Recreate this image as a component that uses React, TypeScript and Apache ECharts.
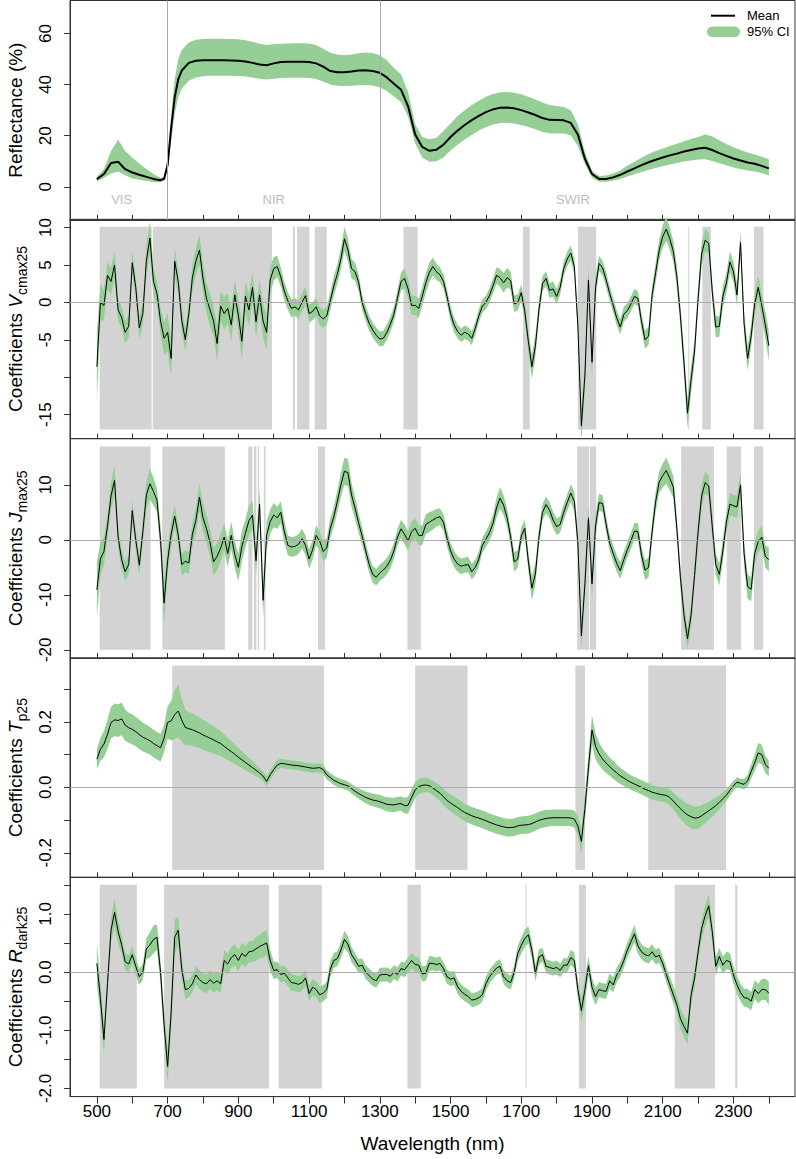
import React, { useEffect, useRef } from "react";
import * as echarts from "echarts";

// ---------- DATA ----------
// Reflectance spectrum (mean and 95% CI), sampled wavelengths (nm)
const reflWl = [
  500, 520, 540, 560, 580, 600, 620, 640, 660, 680,
  690, 700, 710, 720, 730, 740,
  760, 780, 800, 820, 840, 860, 880, 900, 920, 940,
  960, 980, 1000, 1020, 1040, 1060, 1080, 1100, 1120, 1140,
  1160, 1180, 1200, 1220, 1240, 1260, 1280, 1300, 1320, 1340,
  1360, 1380, 1400, 1420, 1440, 1460, 1480, 1500, 1520, 1540,
  1560, 1580, 1600, 1620, 1640, 1660, 1680, 1700, 1720, 1740,
  1760, 1780, 1800, 1820, 1840, 1860, 1880, 1900, 1920, 1940,
  1960, 1980, 2000, 2020, 2040, 2060, 2080, 2100, 2120, 2140,
  2160, 2180, 2200, 2220, 2240, 2260, 2280, 2300, 2320, 2340,
  2360, 2380, 2400,
];
const reflMean = [
  3.0, 5.0, 9.3, 9.8, 6.9, 5.6, 4.7, 3.9, 3.1, 2.6,
  3.1, 8.5, 23.0, 35.0, 42.0, 45.5,
  48.5, 49.3, 49.5, 49.5, 49.5, 49.5, 49.4, 49.3, 49.0, 48.5,
  47.9, 47.6, 48.3, 48.8, 48.9, 48.9, 48.9, 48.8, 48.3, 47.0,
  45.3, 44.8, 44.8, 45.1, 45.5, 45.6, 45.3, 44.6, 42.8, 40.3,
  38.0, 31.5, 20.5, 15.6, 14.1, 14.5, 16.5, 19.5, 22.0, 24.2,
  26.1, 27.8, 29.2, 30.3, 30.9, 31.0, 30.7, 30.0, 29.1, 28.1,
  26.9, 26.2, 26.1, 26.0, 25.0, 20.5, 11.0, 5.0, 3.1, 3.1,
  3.7, 4.7, 6.0, 7.2, 8.5, 9.6, 10.6, 11.5, 12.3, 13.0,
  13.8, 14.4, 15.0, 15.3, 14.4, 13.2, 12.1, 11.1, 10.3, 9.5,
  9.0, 8.2, 7.2,
];
const reflHi = [
  3.8, 7.0, 14.0, 18.5, 14.0, 11.5, 9.0, 7.0, 5.0, 3.5,
  4.0, 10.5, 28.0, 42.0, 50.0, 53.5,
  56.5, 57.5, 57.8, 57.9, 57.9, 57.9, 57.8, 57.7, 57.3, 56.8,
  56.0, 55.5, 55.8, 56.0, 56.1, 56.2, 56.2, 56.1, 55.5, 54.0,
  52.5, 51.8, 51.5, 51.8, 52.3, 52.6, 52.4, 51.5, 49.5, 46.5,
  44.0, 37.0, 24.5, 19.5, 18.6, 19.2, 21.8, 24.8, 27.7, 30.0,
  32.0, 33.7, 35.2, 36.3, 37.0, 37.1, 36.8, 36.2, 35.2, 34.2,
  33.0, 32.0, 31.6, 31.2, 30.0, 24.5, 13.5, 6.3, 4.2, 4.4,
  5.2, 6.5, 8.2, 9.8, 11.4, 12.8, 14.0, 15.0, 16.0, 16.9,
  17.8, 18.7, 19.5, 20.5, 19.8, 18.2, 16.8, 15.5, 14.4, 13.4,
  12.6, 11.8, 10.8,
];
const reflLo = [
  2.2, 3.5, 5.2, 6.0, 4.5, 3.3, 2.8, 2.3, 1.9, 1.8,
  2.3, 6.5, 18.0, 28.5, 35.0, 38.5,
  41.5, 42.8, 43.3, 43.5, 43.5, 43.5, 43.5, 43.4, 43.2, 42.8,
  42.3, 42.0, 42.3, 42.6, 42.7, 42.7, 42.7, 42.6, 42.2, 41.2,
  40.0, 39.5, 39.4, 39.5, 39.7, 39.8, 39.6, 39.0, 37.5, 35.3,
  33.2, 27.5, 17.0, 11.5, 9.8, 10.0, 11.5, 14.2, 16.5, 18.5,
  20.3, 22.0, 23.3, 24.4, 25.0, 25.1, 24.8, 24.2, 23.4, 22.5,
  21.5, 21.0, 20.9, 20.9, 20.2, 16.0, 8.8, 3.6, 2.0, 2.0,
  2.4, 3.1, 4.0, 4.9, 5.8, 6.6, 7.4, 8.1, 8.7, 9.3,
  9.9, 10.3, 10.7, 10.8, 10.1, 9.2, 8.4, 7.6, 7.0, 6.4,
  6.0, 5.4, 4.4,
];

// Coefficient spectra: wavelength grid 500..2400 nm every 10 nm
const wavelengths: number[] = Array.from({ length: 191 }, (_, i) => 500 + i * 10);

const vcmaxMean = [
  -8.6, 0.0, -0.4, 3.6, 2.8, 5.0, -1.0, -2.0, -4.0, -3.2,
  5.3, 2.0, -3.4, -1.5, 5.6, 8.6, 2.8, 1.2, -2.5, -4.8,
  -4.0, -7.5, 5.5, 2.8, -2.4, -5.0, -1.5, 3.3, 5.5, 7.0,
  3.2, 0.5, -1.0, -2.5, -5.5, -0.5, -1.5, -0.8, -3.0, 1.0,
  -1.7, -5.2, 0.8, -1.0, 2.0, -2.6, 1.0, -2.5, -4.0, 3.0,
  4.5, 4.8, 3.4, 1.5, 0.2, -0.8, -0.6, -1.0, 0.0, 0.9,
  -1.5, -1.2, -0.6, -1.8, -2.2, -1.8, 0.2, 2.2, 3.8, 5.8,
  8.5, 7.0, 4.5, 4.1, 2.7, 0.0, -1.5, -2.8, -3.7, -4.4,
  -4.9, -4.8, -4.0, -2.9, -1.6, 0.6, 2.8, 3.2, 1.8, -0.4,
  -0.4, -0.8, 0.8, 2.6, 4.0, 4.8, 4.1, 3.7, 2.8, 0.8,
  -1.5, -3.0, -3.9, -4.4, -4.0, -4.2, -4.8, -3.5, -1.8, -0.5,
  0.0, 0.9, 2.2, 3.6, 3.3, 2.6, 3.3, 2.9, -0.2, 0.0,
  1.3, -1.2, -5.2, -8.6, -5.8, -1.0, 2.5, 3.2, 1.6, 1.8,
  0.8, 2.0, 4.5, 5.8, 6.6, 4.8, -3.0, -16.5, -9.7, 3.0,
  -8.0, 2.0, 5.2, 4.6, 3.0, 1.2, -0.4, -2.1, -3.3, -1.6,
  -1.1, -0.2, 0.8, 0.5, -2.6, -5.0, -4.5, 1.0, 4.0, 7.0,
  8.8, 9.8, 8.5, 6.8, 3.4, -1.8, -8.0, -14.8, -10.4, -6.5,
  0.5, 6.5, 8.3, 7.9, 1.5, -3.3, -3.2, 0.8, 2.6, 5.4,
  4.1, 1.0, 8.0, -2.8, -7.5, -4.5, -0.2, 2.0, -0.4, -3.0,
  -5.8,
];
const vcmaxCi = [
  4.5, 2.5, 2.0, 1.8, 1.8, 1.8, 1.5, 1.4, 1.5, 1.5,
  1.5, 1.5, 1.5, 1.5, 2.0, 2.2, 1.8, 1.6, 1.8, 2.2,
  2.5, 2.5, 1.8, 1.6, 1.6, 1.6, 1.6, 1.8, 1.8, 2.0,
  2.0, 2.0, 2.2, 2.0, 2.4, 2.0, 2.2, 2.0, 2.2, 2.0,
  2.2, 2.4, 2.0, 2.2, 2.0, 2.2, 2.0, 2.2, 2.4, 1.8,
  1.6, 1.4, 1.3, 1.2, 1.2, 1.2, 1.2, 1.2, 1.2, 1.2,
  1.2, 1.2, 1.2, 1.2, 1.2, 1.2, 1.2, 1.3, 1.3, 1.4,
  1.6, 1.5, 1.3, 1.2, 1.1, 1.0, 1.0, 1.0, 1.0, 1.0,
  1.0, 1.0, 1.0, 1.0, 1.0, 1.1, 1.2, 1.3, 1.3, 1.3,
  1.3, 1.3, 1.3, 1.3, 1.3, 1.2, 1.1, 1.0, 1.0, 1.0,
  1.0, 1.0, 0.9, 0.9, 0.9, 0.9, 0.9, 0.9, 0.9, 0.9,
  0.9, 1.0, 1.0, 1.1, 1.2, 1.3, 1.3, 1.2, 1.1, 1.1,
  1.1, 1.2, 1.4, 1.6, 1.5, 1.2, 1.0, 1.0, 1.0, 1.0,
  1.0, 1.0, 1.0, 1.0, 1.0, 1.1, 1.5, 2.0, 2.0, 1.8,
  2.0, 1.5, 1.0, 1.0, 1.0, 1.0, 1.0, 1.0, 1.0, 1.0,
  1.0, 1.0, 1.0, 1.0, 1.1, 1.2, 1.2, 1.2, 1.3, 1.4,
  1.5, 1.6, 1.5, 1.4, 1.4, 1.5, 1.6, 2.0, 1.8, 1.5,
  1.5, 1.5, 1.5, 1.4, 1.4, 1.4, 1.4, 1.4, 1.4, 1.4,
  1.4, 1.5, 1.6, 1.6, 1.6, 1.5, 1.5, 1.6, 1.7, 1.8,
  2.0,
];

const jmaxMean = [
  -9.1, -3.5, -2.1, 2.5, 8.0, 10.8, 0.5, -3.6, -5.8, -4.5,
  5.3, 0.0, -4.6, 1.5, 8.2, 10.2, 8.8, 7.2, 0.0, -11.5,
  -3.8, 1.0, 4.3, 0.9, -4.5, -3.9, -4.2, 1.0, 3.5, 7.8,
  4.0, 2.0, -0.5, -4.0, -3.0, -1.5, 0.5, -2.5, 0.8, -2.7,
  -5.0, -1.2, 1.2, 3.5, 4.5, -3.8, 6.5, -11.0, 0.9, 3.3,
  4.5, 4.0, 5.0, 1.5, -1.0, -1.3, -1.2, -0.8, 0.2, -1.0,
  -3.5, -1.8, 0.8, -0.2, -2.1, -1.5, 2.1, 4.2, 7.0, 10.0,
  12.5, 12.2, 8.2, 5.8, 3.1, 0.7, -2.0, -4.5, -6.3, -6.8,
  -6.0, -5.5, -4.8, -3.7, -2.0, 0.5, 2.0, 1.0, -0.2, 1.5,
  2.1, 0.8, 0.8, 2.8, 3.2, 3.6, 4.0, 4.2, 3.2, 0.3,
  -2.0, -3.5, -4.4, -4.8, -4.6, -4.5, -5.8, -5.0, -3.5, -1.0,
  0.1, 1.3, 3.0, 5.8, 7.6, 6.3, 4.0, 0.5, -4.0, -3.5,
  0.7, 2.1, -3.9, -8.8, -6.2, 0.5, 5.0, 6.4, 5.4, 3.6,
  2.4, 2.8, 5.0, 6.8, 8.5, 7.0, -0.5, -17.5, -8.0, 4.0,
  -8.0, 2.5, 6.8, 6.6, 2.8, -0.6, -2.5, -4.3, -5.6, -3.6,
  -1.8, -0.2, 1.6, 1.5, -2.8, -5.5, -5.0, 1.5, 7.0, 10.5,
  11.7, 12.6, 11.2, 9.6, 2.0, -6.8, -13.6, -18.0, -13.8, -6.5,
  1.5, 8.0, 10.4, 9.8, 2.5, -4.5, -6.3, -2.0, 3.2, 6.5,
  6.2, 6.0, 10.0, -2.5, -8.5, -9.0, -2.5, -0.3, 0.5, -3.0,
  -3.6,
];
const jmaxCi = [
  5.0, 3.0, 2.5, 2.2, 2.5, 2.8, 2.0, 1.8, 1.8, 1.8,
  2.0, 1.8, 1.8, 2.0, 2.5, 2.8, 2.5, 2.2, 2.5, 4.0,
  2.5, 2.2, 2.0, 2.0, 2.0, 2.0, 2.0, 2.2, 2.2, 2.5,
  2.5, 2.5, 2.5, 2.5, 2.5, 2.5, 2.5, 2.5, 2.5, 2.5,
  2.5, 2.8, 2.5, 2.8, 2.5, 2.8, 2.8, 3.0, 2.5, 2.2,
  2.2, 2.0, 2.0, 2.0, 1.8, 1.8, 1.8, 1.8, 1.8, 1.8,
  1.8, 1.8, 1.8, 1.8, 1.8, 1.8, 1.8, 1.8, 2.0, 2.2,
  2.5, 2.5, 2.2, 2.0, 1.8, 1.6, 1.5, 1.5, 1.5, 1.5,
  1.5, 1.5, 1.5, 1.5, 1.5, 1.5, 1.6, 1.8, 1.8, 1.8,
  1.8, 1.8, 1.8, 1.8, 1.8, 1.7, 1.6, 1.5, 1.5, 1.5,
  1.5, 1.5, 1.4, 1.4, 1.4, 1.4, 1.4, 1.4, 1.4, 1.4,
  1.4, 1.5, 1.6, 1.8, 2.0, 1.8, 1.6, 1.6, 1.8, 1.6,
  1.5, 1.6, 1.8, 2.2, 2.0, 1.6, 1.5, 1.5, 1.5, 1.5,
  1.5, 1.5, 1.5, 1.5, 1.6, 1.8, 2.0, 2.5, 2.5, 2.2,
  2.5, 2.0, 1.6, 1.5, 1.5, 1.5, 1.5, 1.5, 1.5, 1.5,
  1.5, 1.5, 1.5, 1.5, 1.6, 1.8, 1.8, 1.8, 1.8, 2.0,
  2.2, 2.4, 2.2, 2.0, 2.0, 2.0, 2.0, 2.0, 2.0, 2.0,
  2.0, 2.0, 2.0, 2.0, 2.0, 2.0, 2.0, 2.0, 2.0, 2.0,
  2.0, 2.0, 2.2, 2.2, 2.2, 2.2, 2.0, 2.0, 2.0, 2.0,
  2.2,
];

const tpMean = [
  0.086, 0.116, 0.132, 0.162, 0.198, 0.206, 0.204, 0.209, 0.190, 0.182,
  0.177, 0.170, 0.161, 0.153, 0.148, 0.142, 0.134, 0.127, 0.121, 0.150,
  0.198, 0.203, 0.222, 0.233, 0.205, 0.183, 0.179, 0.176, 0.171, 0.166,
  0.160, 0.155, 0.150, 0.145, 0.139, 0.134, 0.125, 0.117, 0.109, 0.101,
  0.092, 0.084, 0.076, 0.068, 0.060, 0.052, 0.044, 0.034, 0.018, 0.038,
  0.054, 0.068, 0.073, 0.072, 0.070, 0.068, 0.067, 0.066, 0.064, 0.062,
  0.060, 0.058, 0.059, 0.060, 0.054, 0.038, 0.030, 0.021, 0.016, 0.011,
  0.008, 0.004, -0.004, -0.012, -0.019, -0.025, -0.031, -0.035, -0.039, -0.041,
  -0.044, -0.048, -0.052, -0.053, -0.054, -0.051, -0.050, -0.056, -0.055, -0.030,
  -0.008, 0.002, 0.006, 0.007, 0.005, -0.002, -0.010, -0.018, -0.029, -0.040,
  -0.048, -0.055, -0.062, -0.070, -0.077, -0.082, -0.087, -0.091, -0.094, -0.098,
  -0.102, -0.107, -0.111, -0.115, -0.118, -0.121, -0.123, -0.123, -0.122, -0.118,
  -0.116, -0.115, -0.114, -0.111, -0.106, -0.101, -0.098, -0.095, -0.094, -0.093,
  -0.093, -0.093, -0.093, -0.093, -0.094, -0.097, -0.118, -0.165, -0.065, 0.060,
  0.175, 0.125, 0.102, 0.086, 0.074, 0.063, 0.053, 0.044, 0.035, 0.028,
  0.021, 0.015, 0.010, 0.005, 0.000, -0.006, -0.010, -0.015, -0.018, -0.021,
  -0.023, -0.025, -0.031, -0.042, -0.054, -0.065, -0.076, -0.084, -0.090, -0.094,
  -0.093, -0.087, -0.079, -0.072, -0.064, -0.056, -0.046, -0.035, -0.024, -0.009,
  0.004, 0.016, 0.012, 0.009, 0.020, 0.048, 0.075, 0.105, 0.100, 0.070,
  0.058,
];
const tpCi = [
  0.030, 0.035, 0.040, 0.045, 0.048, 0.050, 0.050, 0.050, 0.048, 0.046,
  0.046, 0.045, 0.045, 0.044, 0.043, 0.042, 0.042, 0.042, 0.042, 0.042,
  0.050, 0.060, 0.075, 0.080, 0.065, 0.055, 0.050, 0.050, 0.048, 0.047,
  0.046, 0.045, 0.043, 0.042, 0.040, 0.038, 0.036, 0.034, 0.032, 0.030,
  0.028, 0.026, 0.024, 0.022, 0.020, 0.018, 0.016, 0.015, 0.015, 0.015,
  0.015, 0.015, 0.014, 0.014, 0.014, 0.014, 0.014, 0.014, 0.014, 0.014,
  0.014, 0.014, 0.014, 0.014, 0.014, 0.014, 0.014, 0.014, 0.014, 0.014,
  0.014, 0.014, 0.015, 0.015, 0.016, 0.017, 0.018, 0.019, 0.020, 0.020,
  0.021, 0.021, 0.022, 0.022, 0.022, 0.022, 0.022, 0.024, 0.026, 0.025,
  0.024, 0.023, 0.022, 0.022, 0.022, 0.022, 0.023, 0.024, 0.025, 0.025,
  0.026, 0.026, 0.027, 0.027, 0.027, 0.027, 0.027, 0.027, 0.027, 0.027,
  0.027, 0.027, 0.027, 0.027, 0.027, 0.027, 0.027, 0.027, 0.027, 0.027,
  0.027, 0.027, 0.027, 0.027, 0.026, 0.026, 0.026, 0.026, 0.025, 0.025,
  0.025, 0.025, 0.025, 0.025, 0.025, 0.026, 0.030, 0.040, 0.040, 0.040,
  0.045, 0.040, 0.035, 0.032, 0.030, 0.028, 0.027, 0.026, 0.025, 0.024,
  0.023, 0.022, 0.022, 0.022, 0.022, 0.022, 0.022, 0.022, 0.022, 0.022,
  0.022, 0.022, 0.024, 0.026, 0.028, 0.030, 0.032, 0.034, 0.035, 0.035,
  0.034, 0.032, 0.030, 0.028, 0.026, 0.024, 0.022, 0.020, 0.018, 0.016,
  0.015, 0.015, 0.015, 0.016, 0.018, 0.022, 0.026, 0.030, 0.030, 0.026,
  0.024,
];

const rdMean = [
  0.15, -0.45, -1.16, -0.20, 0.72, 1.03, 0.70, 0.47, 0.18, 0.14,
  0.30, 0.10, -0.08, 0.00, 0.40, 0.47, 0.56, 0.60, 0.00, -0.90,
  -1.62, -0.70, 0.60, 0.72, 0.05, -0.30, -0.28, -0.20, -0.05, -0.13,
  -0.18, -0.20, -0.13, -0.19, -0.15, -0.20, 0.20, 0.14, 0.25, 0.30,
  0.20, 0.32, 0.27, 0.35, 0.36, 0.40, 0.44, 0.47, 0.50, 0.20,
  0.03, 0.04, -0.04, -0.02, -0.10, -0.18, -0.19, -0.21, -0.18, -0.10,
  -0.37, -0.26, -0.30, -0.39, -0.36, -0.30, 0.05, 0.20, 0.23, 0.38,
  0.56, 0.48, 0.30, 0.21, 0.10, 0.12, 0.00, -0.06, -0.12, -0.15,
  -0.05, -0.04, -0.04, -0.07, 0.00, -0.04, 0.06, 0.04, 0.12, 0.20,
  0.13, 0.12, -0.03, -0.02, 0.15, 0.15, 0.13, 0.15, 0.06, -0.08,
  -0.12, -0.10, -0.25, -0.33, -0.38, -0.42, -0.48, -0.47, -0.44, -0.39,
  -0.20, -0.08, 0.00, 0.07, 0.10, -0.08, -0.15, -0.18, 0.00, 0.32,
  0.46, 0.58, 0.64, 0.38, -0.02, 0.26, 0.30, 0.10, 0.08, 0.06,
  0.08, 0.03, 0.12, 0.12, 0.25, 0.20, -0.30, -0.66, -0.30, 0.11,
  -0.26, -0.42, -0.30, -0.32, -0.33, -0.15, -0.22, -0.05, 0.05, 0.20,
  0.38, 0.52, 0.66, 0.45, 0.35, 0.30, 0.28, 0.35, 0.26, 0.29,
  0.15, -0.04, -0.22, -0.39, -0.56, -0.80, -0.93, -1.05, -0.40, -0.10,
  0.35, 0.75, 0.97, 1.14, 0.70, 0.10, 0.27, 0.12, 0.20, 0.18,
  -0.05, -0.22, -0.35, -0.44, -0.45, -0.50, -0.30, -0.37, -0.30, -0.30,
  -0.36,
];
const rdCi = [
  0.35, 0.28, 0.25, 0.20, 0.20, 0.25, 0.20, 0.16, 0.15, 0.15,
  0.15, 0.15, 0.14, 0.14, 0.18, 0.22, 0.24, 0.22, 0.20, 0.25,
  0.30, 0.28, 0.30, 0.25, 0.18, 0.16, 0.15, 0.15, 0.15, 0.16,
  0.16, 0.16, 0.16, 0.16, 0.16, 0.16, 0.18, 0.18, 0.18, 0.18,
  0.18, 0.18, 0.18, 0.18, 0.18, 0.20, 0.20, 0.22, 0.22, 0.18,
  0.15, 0.14, 0.14, 0.14, 0.14, 0.14, 0.14, 0.14, 0.14, 0.14,
  0.14, 0.14, 0.14, 0.14, 0.14, 0.14, 0.14, 0.13, 0.13, 0.14,
  0.15, 0.14, 0.13, 0.12, 0.12, 0.12, 0.12, 0.12, 0.12, 0.12,
  0.12, 0.12, 0.12, 0.12, 0.12, 0.12, 0.12, 0.13, 0.13, 0.13,
  0.13, 0.13, 0.13, 0.13, 0.13, 0.12, 0.12, 0.12, 0.12, 0.12,
  0.12, 0.12, 0.12, 0.12, 0.12, 0.12, 0.12, 0.12, 0.12, 0.12,
  0.12, 0.12, 0.12, 0.12, 0.12, 0.12, 0.12, 0.12, 0.12, 0.13,
  0.14, 0.15, 0.15, 0.15, 0.14, 0.13, 0.12, 0.12, 0.12, 0.12,
  0.12, 0.12, 0.12, 0.12, 0.13, 0.14, 0.16, 0.20, 0.20, 0.16,
  0.16, 0.15, 0.13, 0.13, 0.13, 0.13, 0.13, 0.13, 0.13, 0.13,
  0.13, 0.14, 0.15, 0.14, 0.13, 0.13, 0.13, 0.13, 0.13, 0.13,
  0.13, 0.13, 0.14, 0.15, 0.16, 0.17, 0.18, 0.20, 0.17, 0.16,
  0.16, 0.17, 0.18, 0.20, 0.18, 0.16, 0.15, 0.15, 0.15, 0.15,
  0.15, 0.15, 0.15, 0.15, 0.16, 0.16, 0.16, 0.17, 0.18, 0.18,
  0.20,
];

// Significant wavelength ranges (grey shading), [start, end] nm
const vcmaxBands = [
  [508, 655], [658, 995], [1054, 1060], [1066, 1101], [1116, 1150], [1367, 1407],
  [1705, 1724], [1860, 1912], [2172, 2175], [2212, 2236], [2358, 2385],
];
const jmaxBands = [
  [508, 652], [685, 862], [928, 940], [944, 951], [955, 959], [972, 977],
  [1125, 1145], [1378, 1416], [1858, 1892], [1894, 1912], [2152, 2245],
  [2281, 2321], [2358, 2384],
];
const tpBands = [[713, 1142], [1400, 1548], [1853, 1880], [2059, 2279]];
const rdBands = [
  [508, 613], [690, 987], [1014, 1136], [1378, 1416], [1712, 1715],
  [1863, 1883], [2134, 2248], [2305, 2311],
];

// Spectral regions
const regionNames = ["VIS", "NIR", "SWIR"];
const regionCenters = [570, 1000, 1846];
const regionBoundaries = [700, 1300];

// Axis ticks
const xTicks = [500, 600, 700, 800, 900, 1000, 1100, 1200, 1300, 1400, 1500, 1600, 1700, 1800, 1900, 2000, 2100, 2200, 2300, 2400];
const xTickLabels = [500, 700, 900, 1100, 1300, 1500, 1700, 1900, 2100, 2300];
const reflTicks = [0, 20, 40, 60];
const vcmaxTicks = [-15, -10, -5, 0, 5, 10];
const vcmaxTickLabels = [-15, -5, 0, 5, 10];
const jmaxTicks = [-20, -10, 0, 10];
const tpTicks = [-0.2, -0.1, 0, 0.1, 0.2, 0.3];
const tpTickLabels = [-0.2, 0, 0.2];
const rdTicks = [-2, -1.5, -1, -0.5, 0, 0.5, 1, 1.5];
const rdTickLabels = [-2, -1, 0, 1];

// ---------- STYLE ----------
const FONT = "'Liberation Sans', Arial, Helvetica, sans-serif";
const GREEN = "#96cf96";
const GRAY = "#d3d3d3";
const REFLINE = "#ababab";
const AXIS = "#333333";
const W = 796;
const H = 1159;
const GRID_LEFT = 70;
const GRID_TOPS = [0.5, 219.3, 438.7, 658, 877.3];
const GRID_H = 219.3;

type Panel = {
  x: number[];
  mean: number[];
  lo: number[];
  hi: number[];
  yMin: number;
  yMax: number;
  ticks: number[];
  labels: number[];
  decimals: number;
  name: string;
  bands: number[][];
  bandLo: number;
  bandHi: number;
  lineWidth: number;
};

function withCi(mean: number[], ci: number[], sign: number) {
  return mean.map((m, i) => m + sign * ci[i]);
}

const panels: Panel[] = [
  {
    x: reflWl, mean: reflMean, lo: reflLo, hi: reflHi,
    yMin: -12.9, yMax: 72.9, ticks: reflTicks, labels: reflTicks, decimals: 0,
    name: "{a|Reflectance (%)}", bands: [], bandLo: 0, bandHi: 0, lineWidth: 2,
  },
  {
    x: wavelengths, mean: vcmaxMean, lo: withCi(vcmaxMean, vcmaxCi, -1), hi: withCi(vcmaxMean, vcmaxCi, 1),
    yMin: -18.2, yMax: 11.1, ticks: vcmaxTicks, labels: vcmaxTickLabels, decimals: 0,
    name: "{a|Coefficients }{b|V}{c|cmax25}", bands: vcmaxBands, bandLo: -17, bandHi: 10.1, lineWidth: 1,
  },
  {
    x: wavelengths, mean: jmaxMean, lo: withCi(jmaxMean, jmaxCi, -1), hi: withCi(jmaxMean, jmaxCi, 1),
    yMin: -21.5, yMax: 18.4, ticks: jmaxTicks, labels: jmaxTicks, decimals: 0,
    name: "{a|Coefficients }{b|J}{c|max25}", bands: jmaxBands, bandLo: -20, bandHi: 17, lineWidth: 1,
  },
  {
    x: wavelengths, mean: tpMean, lo: withCi(tpMean, tpCi, -1), hi: withCi(tpMean, tpCi, 1),
    yMin: -0.275, yMax: 0.395, ticks: tpTicks, labels: tpTickLabels, decimals: 1,
    name: "{a|Coefficients }{b|T}{c|p25}", bands: tpBands, bandLo: -0.253, bandHi: 0.372, lineWidth: 1,
  },
  {
    x: wavelengths, mean: rdMean, lo: withCi(rdMean, rdCi, -1), hi: withCi(rdMean, rdCi, 1),
    yMin: -2.14, yMax: 1.63, ticks: rdTicks, labels: rdTickLabels, decimals: 1,
    name: "{a|Coefficients }{b|R}{c|dark25}", bands: rdBands, bandLo: -2.0, bandHi: 1.5, lineWidth: 1,
  },
];

const titleRich = {
  a: { fontSize: 19, lineHeight: 27, fontFamily: FONT, color: "#000" },
  b: { fontSize: 19, lineHeight: 27, fontFamily: FONT, fontStyle: "italic", color: "#000" },
  c: { fontSize: 14, fontFamily: FONT, verticalAlign: "bottom", color: "#000" },
};

function buildOption() {
  const grid = panels.map((_, i) => ({
    left: GRID_LEFT,
    right: W - 795,
    top: GRID_TOPS[i],
    height: GRID_H,
    show: true,
    borderColor: AXIS,
    borderWidth: 1,
    backgroundColor: "transparent",
    containLabel: false,
    outerBoundsMode: "none",
  }));

  const last = panels.length - 1;
  const xAxis = panels.map((_, i) => ({
    type: "value",
    gridIndex: i,
    min: 424,
    max: 2474,
    splitLine: { show: false },
    axisLine: { show: true, onZero: false, lineStyle: { color: AXIS, width: 1 } },
    axisTick: {
      show: true,
      inside: i !== last,
      length: i === last ? 7 : 5,
      customValues: xTicks,
      lineStyle: { color: AXIS, width: 1 },
    },
    axisLabel: {
      show: i === last,
      customValues: xTickLabels,
      fontSize: 17,
      fontFamily: FONT,
      color: "#000",
      margin: 6,
      formatter: (v: number) => String(Math.round(v)),
    },
    name: i === last ? "Wavelength (nm)" : "",
    nameLocation: "middle",
    nameGap: 37,
    nameTextStyle: { fontSize: 19, fontFamily: FONT, color: "#000" },
  }));

  const yAxis = panels.map((p, i) => ({
    type: "value",
    gridIndex: i,
    min: p.yMin,
    max: p.yMax,
    splitLine: { show: false },
    axisLine: { show: true, onZero: false, lineStyle: { color: AXIS, width: 1 } },
    axisTick: { show: true, length: 6, customValues: p.ticks, lineStyle: { color: AXIS, width: 1 } },
    axisLabel: {
      show: true,
      customValues: p.labels,
      rotate: 90,
      margin: 16,
      fontSize: 17,
      fontFamily: FONT,
      color: "#000",
      formatter: (v: number) => (p.decimals ? Number(v).toFixed(p.decimals) : String(Math.round(v))),
    },
    name: p.name,
    nameLocation: "middle",
    nameRotate: 90,
    nameGap: 41,
    nameTextStyle: { fontSize: 19, fontFamily: FONT, color: "#000", rich: titleRich },
  }));

  const series: any[] = [];
  panels.forEach((p, i) => {
    if (i === 0) {
      series.push({
        type: "custom",
        name: "regions",
        xAxisIndex: i,
        yAxisIndex: i,
        z: 1,
        silent: true,
        data: regionCenters.map((c) => [c, -5.1]),
        encode: { x: 0, y: 1 },
        renderItem: (params: any, api: any) => {
          const pt = api.coord([api.value(0), api.value(1)]);
          return {
            type: "text",
            x: pt[0],
            y: pt[1],
            style: {
              text: regionNames[params.dataIndex],
              fill: "#bdbdbd",
              fontSize: 13,
              fontFamily: FONT,
              align: "center",
              verticalAlign: "middle",
            },
          };
        },
        markLine: {
          silent: true,
          symbol: ["none", "none"],
          label: { show: false },
          lineStyle: { color: REFLINE, width: 1, type: "solid" },
          data: regionBoundaries.map((b) => ({ xAxis: b })),
        },
      });
    } else {
      series.push({
        type: "custom",
        name: "significant",
        xAxisIndex: i,
        yAxisIndex: i,
        z: 1,
        silent: true,
        data: p.bands.map((b) => [b[0], b[1], p.bandLo, p.bandHi]),
        encode: { x: [0, 1], y: [2, 3] },
        renderItem: (params: any, api: any) => {
          const a = api.coord([api.value(0), api.value(3)]);
          const b = api.coord([api.value(1), api.value(2)]);
          return {
            type: "rect",
            shape: { x: a[0], y: a[1], width: Math.max(b[0] - a[0], 1), height: b[1] - a[1] },
            style: { fill: GRAY },
          };
        },
        markLine: {
          silent: true,
          symbol: ["none", "none"],
          label: { show: false },
          lineStyle: { color: REFLINE, width: 1, type: "solid" },
          data: [{ yAxis: 0 }],
        },
      });
    }

    series.push({
      type: "custom",
      name: "95% CI",
      xAxisIndex: i,
      yAxisIndex: i,
      z: 2,
      silent: true,
      data: p.x.map((x, k) => [x, p.lo[k], p.hi[k]]),
      encode: { x: 0, y: [1, 2] },
      renderItem: (params: any, api: any) => {
        if (params.dataIndex !== 0) return null;
        const pts: number[][] = [];
        for (let k = 0; k < p.x.length; k++) pts.push(api.coord([p.x[k], p.hi[k]]));
        for (let k = p.x.length - 1; k >= 0; k--) pts.push(api.coord([p.x[k], p.lo[k]]));
        return { type: "polygon", shape: { points: pts }, style: { fill: GREEN } };
      },
    });

    series.push({
      type: "line",
      name: "Mean",
      xAxisIndex: i,
      yAxisIndex: i,
      z: 3,
      silent: true,
      showSymbol: false,
      symbol: "none",
      data: p.x.map((x, k) => [x, p.mean[k]]),
      lineStyle: { color: "#000", width: p.lineWidth },
    });
  });

  const graphic = [
    { type: "line", shape: { x1: 711, y1: 15.7, x2: 735, y2: 15.7 }, style: { stroke: "#000", lineWidth: 2 } },
    { type: "rect", shape: { x: 707, y: 26.5, width: 33, height: 10.5, r: 5.25 }, style: { fill: GREEN } },
    { type: "text", x: 747, y: 15.7, style: { text: "Mean", fill: "#000", fontSize: 13, fontFamily: FONT, align: "left", verticalAlign: "middle" } },
    { type: "text", x: 747, y: 31.7, style: { text: "95% CI", fill: "#000", fontSize: 13, fontFamily: FONT, align: "left", verticalAlign: "middle" } },
  ];

  return {
    animation: false,
    backgroundColor: "#ffffff",
    textStyle: { fontFamily: FONT },
    grid,
    xAxis,
    yAxis,
    series,
    graphic,
  };
}

export default function App() {
  const ref = useRef<HTMLDivElement>(null);
  useEffect(() => {
    if (!ref.current) return;
    const chart = echarts.init(ref.current, undefined, { renderer: "svg", width: W, height: H });
    chart.setOption(buildOption() as any);
    return () => chart.dispose();
  }, []);
  return (
    <div
      ref={ref}
      style={{ position: "absolute", left: 0, top: 0, width: W, height: H, background: "#fff" }}
    />
  );
}
